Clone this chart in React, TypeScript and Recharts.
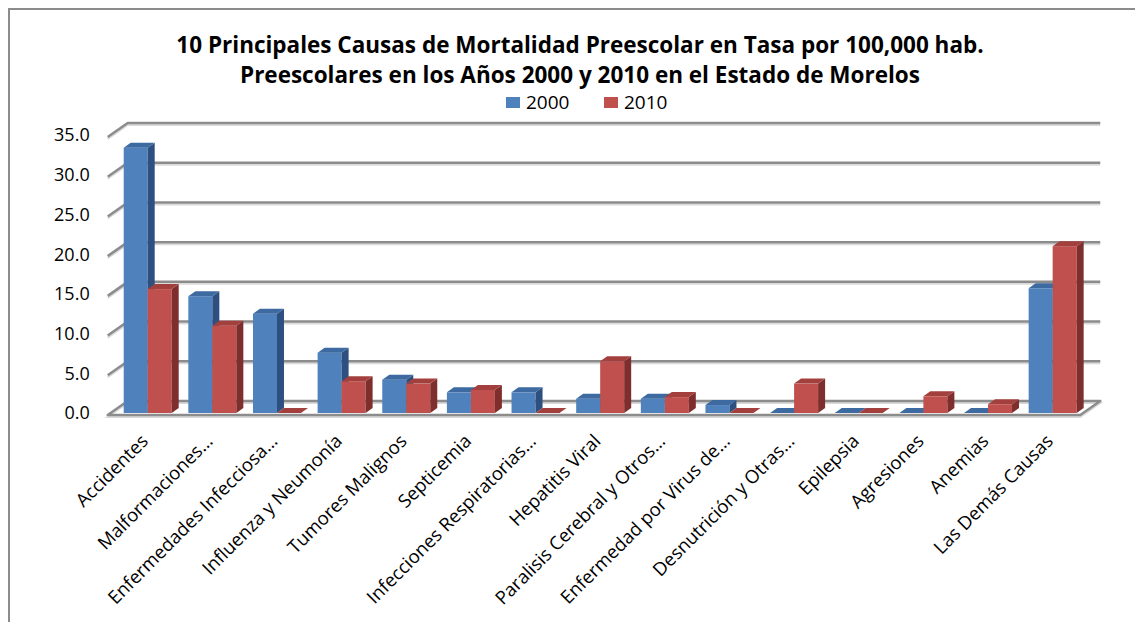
import { BarChart, Bar, XAxis, YAxis, CartesianGrid } from 'recharts';

const causas = [
  'Accidentes',
  'Malformaciones…',
  'Enfermedades Infecciosa…',
  'Influenza y Neumonía',
  'Tumores Malignos',
  'Septicemia',
  'Infecciones Respiratorias…',
  'Hepatitis Viral',
  'Paralisis Cerebral y Otros…',
  'Enfermedad por Virus de…',
  'Desnutrición y Otras…',
  'Epilepsia',
  'Agresiones',
  'Anemias',
  'Las Demás Causas',
];
const tasa2000 = [33.4, 14.7, 12.5, 7.6, 4.2, 2.6, 2.6, 1.8, 1.8, 1.0, 0, 0, 0, 0, 15.7];
const tasa2010 = [15.6, 11.0, 0, 4.0, 3.7, 2.9, 0, 6.5, 2.0, 0, 3.7, 0, 2.1, 1.1, 21.0];
const yTicks = [0, 5, 10, 15, 20, 25, 30, 35];

const data = causas.map((causa, i) => ({ causa, a2000: tasa2000[i], a2010: tasa2010[i] }));

const FONT = '"Open Sans", sans-serif';
const GRID = '#8c8c8c';
const BLUE = { front: '#4f81bd', top: '#3d6aa1', side: '#2e5080' };
const RED = { front: '#c0504d', top: '#a3403d', side: '#7e2f2d' };

// depth of the back wall and of each bar
const WALL_DX = 20;
const WALL_DY = 14;
const BAR_DX = 7;
const BAR_DY = 5;

const W = 1133;
const H = 612;
const MARGIN = { top: 125, right: 57.7, bottom: 29, left: 25.7 };
const X_AXIS_H = 180;
const PLOT_BOTTOM = H - MARGIN.bottom - X_AXIS_H;

function Bar3D(props: any) {
  const { x, y, width, height, fill, topFill, sideFill } = props;
  if (x == null || y == null) return null;
  const h = Math.max(height || 0, 0);
  const x2 = x + width;
  const yb = y + h;
  return (
    <g>
      <rect x={x} y={y} width={width} height={h} fill={fill} />
      <polygon
        points={`${x2},${y} ${x2 + BAR_DX},${y - BAR_DY} ${x2 + BAR_DX},${yb - BAR_DY} ${x2},${yb}`}
        fill={sideFill}
      />
      <polygon
        points={`${x},${y} ${x + BAR_DX},${y - BAR_DY} ${x2 + BAR_DX},${y - BAR_DY} ${x2},${y}`}
        fill={topFill}
      />
    </g>
  );
}

// each gridline: short diagonal on the side wall + line across the back wall
function WallLine(props: any) {
  const { x1, x2, y1, index } = props;
  const fy = y1 + 2;
  const by = fy - WALL_DY;
  const left = x1 - 8;
  const isFloor = Math.abs(y1 - PLOT_BOTTOM) < 1;
  const path = isFloor
    ? `M${left},${fy} L${left + WALL_DX},${by} L${x2 + 15},${by} L${x2 - 5},${fy} Z`
    : `M${left},${fy} L${left + WALL_DX},${by} L${x2 + 15},${by}`;
  return (
    <g key={`wall-${index}`}>
      <path d={path} transform="translate(0,2)" stroke="#dadada" strokeWidth={2} fill="none" />
      <path d={path} stroke={GRID} strokeWidth={2.5} fill="none" strokeLinejoin="round" />
    </g>
  );
}

function CausaTick({ x, y, payload }: any) {
  const ax = x - 4;
  const ay = y + 24;
  return (
    <text
      x={ax}
      y={ay}
      transform={`rotate(-45 ${ax} ${ay})`}
      textAnchor="end"
      dominantBaseline="central"
      fontSize={18.5}
      fontFamily={FONT}
      fill="#000"
    >
      {payload.value}
    </text>
  );
}

const legendItems = [
  { label: '2000', color: BLUE.front, left: 496 },
  { label: '2010', color: RED.front, left: 594 },
];

export default function App() {
  return (
    <div
      style={{
        position: 'relative',
        width: W + 2,
        height: H + 2,
        boxSizing: 'border-box',
        borderTop: `2px solid ${GRID}`,
        borderLeft: `2px solid ${GRID}`,
        background: '#fff',
      }}
    >
      <div
        style={{
          position: 'absolute',
          top: 20,
          left: 0,
          width: 1140,
          textAlign: 'center',
          fontFamily: FONT,
          fontWeight: 700,
          fontSize: 22.5,
          lineHeight: '30px',
          color: '#000',
          whiteSpace: 'nowrap',
          zIndex: 2,
        }}
      >
        10 Principales Causas de Mortalidad Preescolar en Tasa por 100,000 hab.
        <br />
        Preescolares en los Años 2000 y 2010 en el Estado de Morelos
      </div>
      {legendItems.map((item) => (
        <div
          key={item.label}
          style={{
            position: 'absolute',
            top: 80,
            left: item.left,
            height: 24,
            display: 'flex',
            alignItems: 'center',
            fontFamily: FONT,
            fontSize: 19,
            color: '#000',
            zIndex: 2,
          }}
        >
          <span style={{ display: 'inline-block', width: 14, height: 11, background: item.color, marginRight: 6 }} />
          {item.label}
        </div>
      ))}
      <BarChart width={W} height={H} data={data} margin={MARGIN} barGap={0}>
        <CartesianGrid vertical={false} horizontal={(p: any) => <WallLine {...p} />} />
        <XAxis
          dataKey="causa"
          interval={0}
          height={X_AXIS_H}
          axisLine={false}
          tickLine={false}
          tickSize={0}
          tickMargin={0}
          tick={<CausaTick />}
        />
        <YAxis
          width={80}
          domain={[0, 35]}
          ticks={yTicks}
          axisLine={false}
          tickLine={false}
          tickSize={0}
          tickMargin={26}
          tickFormatter={(v: number) => v.toFixed(1)}
          tick={{ fontSize: 18, fontFamily: FONT, fill: '#000' }}
        />
        <Bar
          dataKey="a2000"
          name="2000"
          barSize={24}
          fill={BLUE.front}
          isAnimationActive={false}
          shape={(p: any) => <Bar3D {...p} topFill={BLUE.top} sideFill={BLUE.side} />}
        />
        <Bar
          dataKey="a2010"
          name="2010"
          barSize={24}
          fill={RED.front}
          isAnimationActive={false}
          shape={(p: any) => <Bar3D {...p} topFill={RED.top} sideFill={RED.side} />}
        />
      </BarChart>
    </div>
  );
}
